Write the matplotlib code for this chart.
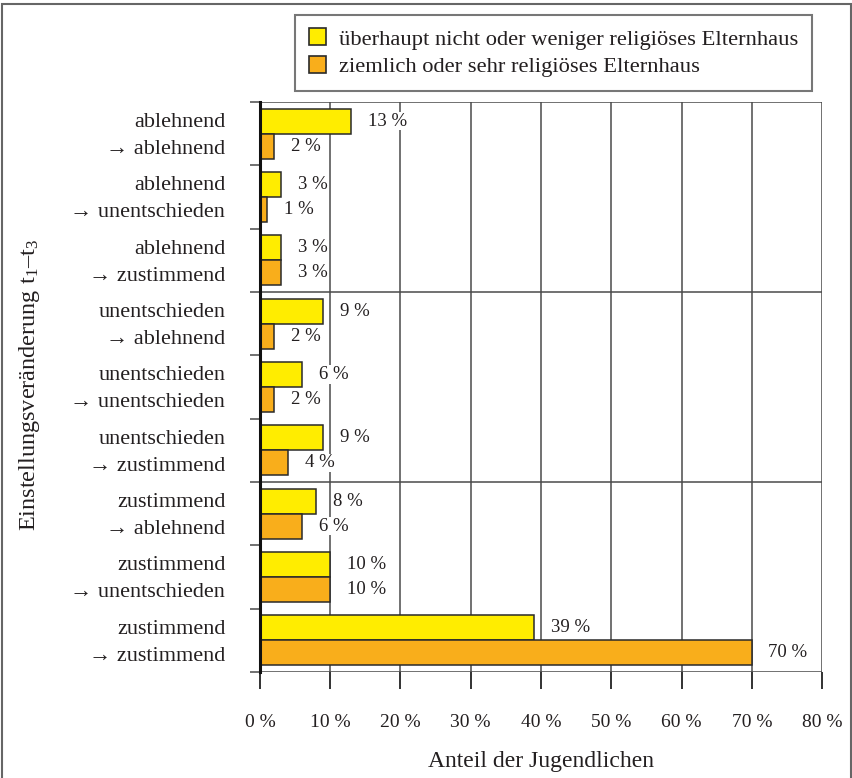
import matplotlib
matplotlib.use("Agg")
import matplotlib.pyplot as plt
import matplotlib.transforms as mtransforms
from matplotlib.patches import Rectangle, Patch
import numpy as np

plt.rcParams['font.family'] = ['Liberation Serif', 'DejaVu Serif']
plt.rcParams['mathtext.fontset'] = 'custom'
plt.rcParams['mathtext.rm'] = 'Liberation Serif'
plt.rcParams['mathtext.it'] = 'Liberation Serif:italic'
plt.rcParams['mathtext.default'] = 'regular'

categories = [
    "ablehnend\n→ ablehnend",
    "ablehnend\n→ unentschieden",
    "ablehnend\n→ zustimmend",
    "unentschieden\n→ ablehnend",
    "unentschieden\n→ unentschieden",
    "unentschieden\n→ zustimmend",
    "zustimmend\n→ ablehnend",
    "zustimmend\n→ unentschieden",
    "zustimmend\n→ zustimmend",
]
weniger = [13, 3, 3, 9, 6, 9, 8, 10, 39]
ziemlich = [2, 1, 3, 2, 2, 4, 6, 10, 70]
series_names = ["überhaupt nicht oder weniger religiöses Elternhaus",
                "ziemlich oder sehr religiöses Elternhaus"]
xticks = [0, 10, 20, 30, 40, 50, 60, 70, 80]
xticklabels = [f"{v} %" for v in xticks]

yellow = "#FFED00"
orange = "#F9AE1B"
edge = "#2a2a2a"
txt = "#231f20"
grid = "#4a4a4a"

W, H = 853, 778
fig = plt.figure(figsize=(W / 100, H / 100), dpi=100)
ax = fig.add_axes([260 / W, 1 - 672 / H, (822 - 260) / W, (672 - 102) / H])

y = np.arange(len(categories))
bh = 0.395
ax.barh(y - bh / 2, weniger, height=bh, color=yellow, edgecolor=edge, linewidth=1.1, zorder=3)
ax.barh(y + bh / 2, ziemlich, height=bh, color=orange, edgecolor=edge, linewidth=1.1, zorder=3)

for i, v in enumerate(weniger):
    ax.annotate(f"{v} %", (v, i - bh / 2), xytext=(12, 0), textcoords="offset points",
                va="center", ha="left", fontsize=13.5, color=txt, zorder=4,
                bbox=dict(facecolor="white", edgecolor="none", pad=0.5))
for i, v in enumerate(ziemlich):
    ax.annotate(f"{v} %", (v, i + bh / 2), xytext=(12, 0), textcoords="offset points",
                va="center", ha="left", fontsize=13.5, color=txt, zorder=4,
                bbox=dict(facecolor="white", edgecolor="none", pad=0.5))

ax.set_xlim(0, 80)
ax.set_ylim(len(categories) - 0.5, -0.5)

for xv in xticks[1:]:
    ax.axvline(xv, color=grid, linewidth=1.1, zorder=1)
for yv in [-0.5, 2.5, 5.5, 8.5]:
    ax.axhline(yv, color=grid, linewidth=1.1, zorder=1)

for s in ["top", "right", "bottom"]:
    ax.spines[s].set_visible(False)
ax.spines["left"].set_linewidth(2.2)
ax.spines["left"].set_color("#111111")
ax.spines["left"].set_zorder(5)

ax.set_xticks(xticks)
ax.set_xticklabels(xticklabels, fontsize=14, color=txt)
ax.tick_params(axis="x", direction="out", length=12, width=1.3, color="#222222", pad=18)

ax.set_yticks(y)
ax.set_yticklabels(categories, fontsize=16, color=txt, linespacing=1.55)
ax.tick_params(axis="y", which="major", length=0, pad=25)
shift = mtransforms.ScaledTranslation(0, 4 / 100, fig.dpi_scale_trans)
for lab in ax.get_yticklabels():
    lab.set_transform(lab.get_transform() + shift)
ax.set_yticks(np.arange(-0.5, len(categories) + 0.5, 1), minor=True)
ax.tick_params(axis="y", which="minor", direction="out", length=7.5, width=1.1, color=grid)

fig.text(30 / W, 1 - 385 / H, "Einstellungsveränderung t$_1$–t$_3$", rotation=90,
         ha="center", va="center", fontsize=17.5, color=txt)
fig.text(541 / W, 1 - 762 / H, "Anteil der Jugendlichen", ha="center", va="center",
         fontsize=17, color=txt)

handles = [Patch(facecolor=yellow, edgecolor=edge, linewidth=1.2),
           Patch(facecolor=orange, edgecolor=edge, linewidth=1.2)]
leg = fig.legend(handles, series_names, loc="upper right",
                 bbox_to_anchor=(812 / W, 1 - 15 / H), fontsize=16.2,
                 frameon=True, fancybox=False, handlelength=0.75, handleheight=0.75,
                 handletextpad=0.6, labelspacing=0.3, borderpad=0.6, borderaxespad=0,
                 labelcolor=txt)
leg.get_frame().set_edgecolor("#555555")
leg.get_frame().set_linewidth(1.5)

fig.patches.append(Rectangle((2 / W, -0.01), (851 - 2) / W, 1 - 4 / H + 0.01,
                             transform=fig.transFigure, fill=False,
                             edgecolor="#666666", linewidth=1.5))

fig.savefig("out.png", dpi=100)
